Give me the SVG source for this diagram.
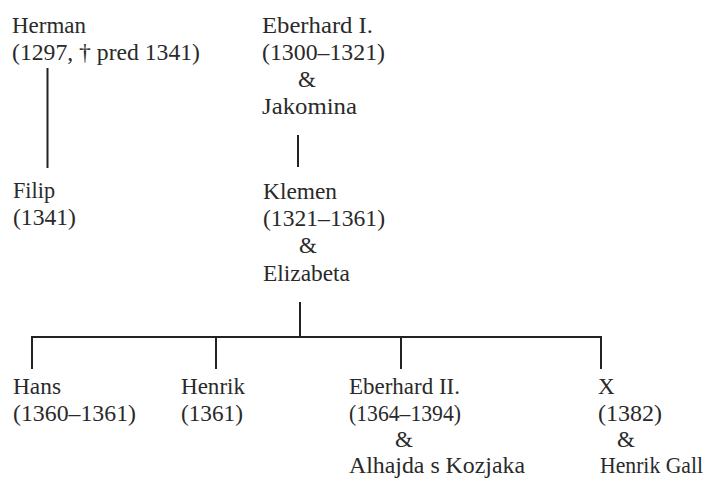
<svg xmlns="http://www.w3.org/2000/svg" width="711" height="479" viewBox="0 0 711 479">
<style>
text{font-family:"Liberation Serif","Times New Roman",serif;font-size:23px;fill:#2a2a2a}
.c line{stroke:#222;stroke-width:2}
</style>
<rect width="711" height="479" fill="#fff"/>
<g id="herman"><text x="12" y="33" textLength="74" lengthAdjust="spacingAndGlyphs">Herman</text><text x="12" y="60" textLength="188" lengthAdjust="spacingAndGlyphs">(1297, † pred 1341)</text></g>
<g id="eberhard1"><text x="262" y="33" textLength="111" lengthAdjust="spacingAndGlyphs">Eberhard I.</text><text x="262" y="60" textLength="123" lengthAdjust="spacingAndGlyphs">(1300–1321)</text><text x="298" y="87">&amp;</text><text x="262" y="114" textLength="95" lengthAdjust="spacingAndGlyphs">Jakomina</text></g>
<g id="filip"><text x="13" y="198" textLength="42" lengthAdjust="spacingAndGlyphs">Filip</text><text x="13" y="225" textLength="63" lengthAdjust="spacingAndGlyphs">(1341)</text></g>
<g id="klemen"><text x="263" y="199" textLength="74" lengthAdjust="spacingAndGlyphs">Klemen</text><text x="263" y="226" textLength="122" lengthAdjust="spacingAndGlyphs">(1321–1361)</text><text x="299" y="253">&amp;</text><text x="263" y="281" textLength="87" lengthAdjust="spacingAndGlyphs">Elizabeta</text></g>
<g id="hans"><text x="13" y="394" textLength="48" lengthAdjust="spacingAndGlyphs">Hans</text><text x="13" y="421" textLength="123" lengthAdjust="spacingAndGlyphs">(1360–1361)</text></g>
<g id="henrik"><text x="181" y="394" textLength="64" lengthAdjust="spacingAndGlyphs">Henrik</text><text x="181" y="421" textLength="62" lengthAdjust="spacingAndGlyphs">(1361)</text></g>
<g id="eberhard2"><text x="349" y="394" textLength="111" lengthAdjust="spacingAndGlyphs">Eberhard II.</text><text x="349" y="421" textLength="112" lengthAdjust="spacingAndGlyphs">(1364–1394)</text><text x="395" y="447">&amp;</text><text x="349" y="473" textLength="176" lengthAdjust="spacingAndGlyphs">Alhajda s Kozjaka</text></g>
<g id="x"><text x="598" y="394">X</text><text x="598" y="421" textLength="64" lengthAdjust="spacingAndGlyphs">(1382)</text><text x="617" y="447">&amp;</text><text x="600" y="473" textLength="103" lengthAdjust="spacingAndGlyphs">Henrik Gall</text></g>
<g class="c" id="connectors">
<line x1="47.5" y1="68" x2="47.5" y2="168"/>
<line x1="298" y1="135" x2="298" y2="167"/>
<line x1="300" y1="302" x2="300" y2="337"/>
<line x1="31" y1="337" x2="602" y2="337"/>
<line x1="32" y1="336" x2="32" y2="369"/>
<line x1="216" y1="337" x2="216" y2="369"/>
<line x1="401" y1="337" x2="401" y2="369"/>
<line x1="601" y1="336" x2="601" y2="369"/>
</g>
</svg>
